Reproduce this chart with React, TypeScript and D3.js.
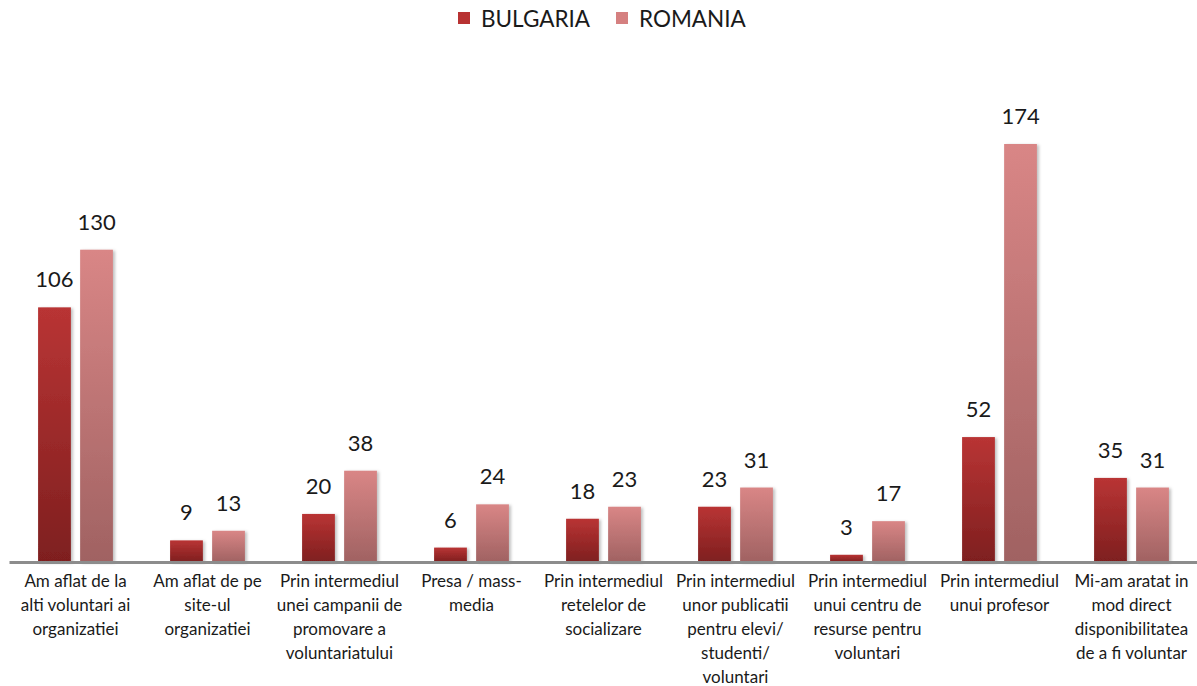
import React from "react";
import * as d3 from "d3";

const categories: string[][] = [
  ["Am aflat de la", "alti voluntari ai", "organizatiei"],
  ["Am aflat de pe", "site-ul", "organizatiei"],
  ["Prin intermediul", "unei campanii de", "promovare a", "voluntariatului"],
  ["Presa / mass-", "media"],
  ["Prin intermediul", "retelelor de", "socializare"],
  ["Prin intermediul", "unor publicatii", "pentru elevi/", "studenti/", "voluntari"],
  ["Prin intermediul", "unui centru de", "resurse pentru", "voluntari"],
  ["Prin intermediul", "unui profesor"],
  ["Mi-am aratat in", "mod direct", "disponibilitatea", "de a fi voluntar"],
];
const bulgaria = [106, 9, 20, 6, 18, 23, 3, 52, 35];
const romania = [130, 13, 38, 24, 23, 31, 17, 174, 31];
const seriesNames = ["BULGARIA", "ROMANIA"];

const W = 1197;
const H = 686;
const FONT = "Lato, 'Open Sans', sans-serif";

export default function App() {
  const left = 9.5;
  const right = 1197.5;
  const baseY = 562;
  const topY = 144;

  const x0 = d3
    .scaleBand<number>()
    .domain(categories.map((_, i) => i))
    .range([left, right])
    .paddingInner(0)
    .paddingOuter(0);
  const x1 = d3
    .scaleBand<number>()
    .domain([0, 1])
    .range([0, x0.bandwidth()])
    .paddingInner(0.22)
    .paddingOuter(0.68);
  const y = d3.scaleLinear().domain([0, 174]).range([baseY, topY]);

  const series = [bulgaria, romania];
  const grads = [
    { id: "gBul", top: "#b93434", bottom: "#7e1f1f", sw: "#b83232" },
    { id: "gRom", top: "#d98686", bottom: "#a06262", sw: "#d58080" },
  ];

  return (
    <svg width={W} height={H} style={{ display: "block", position: "absolute", left: 0, top: 0 }}>
      <defs>
        {grads.map((g) => (
          <linearGradient key={g.id} id={g.id} x1="0" y1="0" x2="0" y2="1">
            <stop offset="0%" stopColor={g.top} />
            <stop offset="100%" stopColor={g.bottom} />
          </linearGradient>
        ))}
        <filter id="shadow" x="-30%" y="-10%" width="160%" height="120%">
          <feDropShadow dx="2" dy="1" stdDeviation="1.5" floodColor="#000" floodOpacity="0.25" />
        </filter>
      </defs>
      <rect x={0} y={0} width={W} height={H} fill="#ffffff" />

      {/* legend */}
      {seriesNames.map((name, i) => {
        const lx = i === 0 ? 458 : 616;
        return (
          <g key={name}>
            <rect x={lx} y={12} width={12} height={12} fill={grads[i].sw} />
            <text x={lx + 23} y={26.5} fontFamily={FONT} fontSize={22.5} fill="#1a1a1a">
              {name}
            </text>
          </g>
        );
      })}

      {/* bars */}
      {series.map((vals, s) =>
        vals.map((v, i) => {
          const bx = (x0(i) as number) + (x1(s) as number);
          const bw = x1.bandwidth();
          const by = y(v);
          return (
            <g key={`${s}-${i}`}>
              <rect
                x={bx}
                y={by}
                width={bw}
                height={baseY - by}
                fill={`url(#${grads[s].id})`}
                filter="url(#shadow)"
              />
              <text
                x={bx + bw / 2}
                y={by - 20}
                textAnchor="middle"
                fontFamily={FONT}
                fontSize={22}
                fill="#1a1a1a"
              >
                {v}
              </text>
            </g>
          );
        })
      )}

      {/* axis */}
      <line x1={left} x2={right} y1={baseY + 0.5} y2={baseY + 0.5} stroke="#8c8c8c" strokeWidth={3} />

      {/* category labels */}
      {categories.map((lines, i) => {
        const cx = (x0(i) as number) + x0.bandwidth() / 2;
        return (
          <text key={i} textAnchor="middle" fontFamily={FONT} fontSize={17} fill="#1a1a1a">
            {lines.map((ln, k) => (
              <tspan key={k} x={cx} y={587 + k * 24}>
                {ln}
              </tspan>
            ))}
          </text>
        );
      })}
    </svg>
  );
}
